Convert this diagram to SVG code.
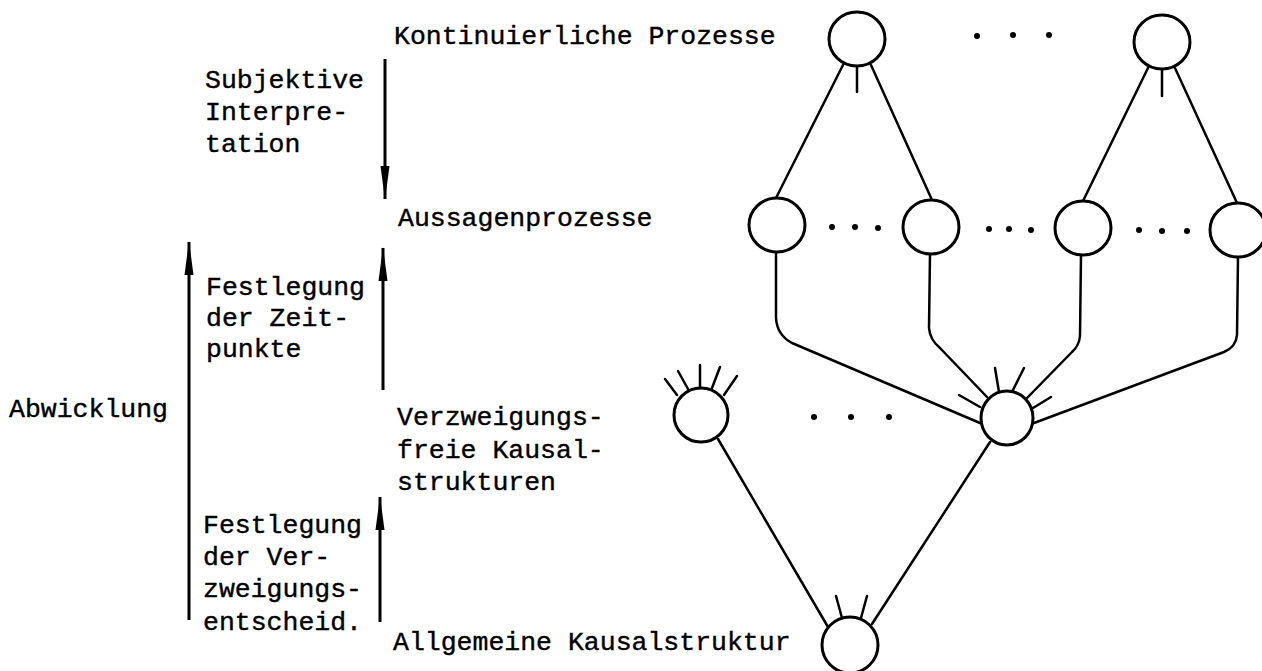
<svg xmlns="http://www.w3.org/2000/svg" width="1262" height="671" viewBox="0 0 1262 671">
<style>
text{font-family:"Liberation Mono","DejaVu Sans Mono",monospace;font-size:26.5px;fill:#000;stroke:#000;stroke-width:0.4}
.n{fill:#fff;stroke:#000;stroke-width:3}
.c{fill:none;stroke:#000;stroke-width:2.5;stroke-linecap:round;stroke-linejoin:round}
.a{fill:none;stroke:#000;stroke-width:3}
.d{fill:#000}
</style>
<defs>
<marker id="ah" viewBox="0 -5 34 10" markerWidth="34" markerHeight="10" refX="33" refY="0" markerUnits="userSpaceOnUse" orient="auto">
<path d="M0,-4.5 L34,0 L0,4.5 z" fill="#000"/>
</marker>
</defs>
<rect width="1262" height="671" fill="#fff"/>
<g id="labels">
<text x="394" y="44">Kontinuierliche Prozesse</text>
<text x="205" y="88">Subjektive</text>
<text x="205" y="120">Interpre-</text>
<text x="205" y="152">tation</text>
<text x="398" y="226">Aussagenprozesse</text>
<text x="206" y="295">Festlegung</text>
<text x="206" y="326">der Zeit-</text>
<text x="206" y="357">punkte</text>
<text x="9" y="417">Abwicklung</text>
<text x="397" y="425">Verzweigungs-</text>
<text x="397" y="458">freie Kausal-</text>
<text x="397" y="490">strukturen</text>
<text x="203" y="533">Festlegung</text>
<text x="203" y="565">der Ver-</text>
<text x="203" y="597">zweigungs-</text>
<text x="203" y="630">entscheid.</text>
<text x="393" y="650">Allgemeine Kausalstruktur</text>
</g>
<g id="arrows">
<path class="a" d="M385,59 L385,199" marker-end="url(#ah)"/>
<path class="a" d="M189,620 L189,242" marker-end="url(#ah)"/>
<path class="a" d="M383,390 L383,248" marker-end="url(#ah)"/>
<path class="a" d="M380,622 L380,497" marker-end="url(#ah)"/>
</g>
<g id="connectors">
<path class="c" d="M843,65 L776,198"/>
<path class="c" d="M871,65 L932,200"/>
<path class="c" d="M1148,68 L1083,201"/>
<path class="c" d="M1175,68 L1237,203"/>
<path class="c" d="M857,66 L857,92"/>
<path class="c" d="M1162,70 L1162,96"/>
<path class="c" d="M776,252 L776,318 Q777,335 792,343 L980,423"/>
<path class="c" d="M930,254 L929,328 Q930,340 940,348 L987,397"/>
<path class="c" d="M1081,255 L1080,336 Q1079,346 1072,352 L1027,398"/>
<path class="c" d="M1238,257 L1237,335 Q1236,347 1224,352 L1034,423"/>
<path class="c" d="M990,442 L872,624"/>
<path class="c" d="M718,439 L828,627"/>
<path class="c" d="M995,368 L999,392 M1024,368 L1012,392 M959,395 L980,407 M1051,397 L1033,408"/>
<path class="c" d="M665,379 L677,395 M678,371 L688,389 M700,365 L700,387 M720,367 L712,388 M737,376 L724,395"/>
<path class="c" d="M836,596 L842,618 M867,596 L861,618"/>
</g>
<g id="node-k1"><ellipse class="n" cx="857" cy="39" rx="28" ry="27"/></g>
<g id="node-k2"><ellipse class="n" cx="1162" cy="42" rx="28" ry="27"/></g>
<g id="node-a1"><ellipse class="n" cx="777" cy="225" rx="28" ry="27"/></g>
<g id="node-a2"><ellipse class="n" cx="931" cy="227" rx="28" ry="27"/></g>
<g id="node-a3"><ellipse class="n" cx="1083" cy="228" rx="28" ry="27"/></g>
<g id="node-a4"><ellipse class="n" cx="1238" cy="230" rx="28" ry="27"/></g>
<g id="node-v1"><ellipse class="n" cx="701" cy="415" rx="27" ry="27"/></g>
<g id="node-v2"><ellipse class="n" cx="1007" cy="418" rx="26" ry="27"/></g>
<g id="node-g"><ellipse class="n" cx="850" cy="645" rx="28" ry="28"/></g>
<g id="dots">
<circle class="d" cx="977" cy="36" r="3"/><circle class="d" cx="1013" cy="35" r="3"/><circle class="d" cx="1049" cy="35" r="3"/>
<circle class="d" cx="832" cy="227" r="3"/><circle class="d" cx="855" cy="227" r="3"/><circle class="d" cx="878" cy="228" r="3"/>
<circle class="d" cx="989" cy="229" r="3"/><circle class="d" cx="1009" cy="229" r="3"/><circle class="d" cx="1031" cy="230" r="3"/>
<circle class="d" cx="1139" cy="230" r="3"/><circle class="d" cx="1162" cy="231" r="3"/><circle class="d" cx="1187" cy="231" r="3"/>
<circle class="d" cx="814" cy="417" r="3"/><circle class="d" cx="851" cy="417" r="3"/><circle class="d" cx="889" cy="417" r="3"/>
</g>
</svg>
